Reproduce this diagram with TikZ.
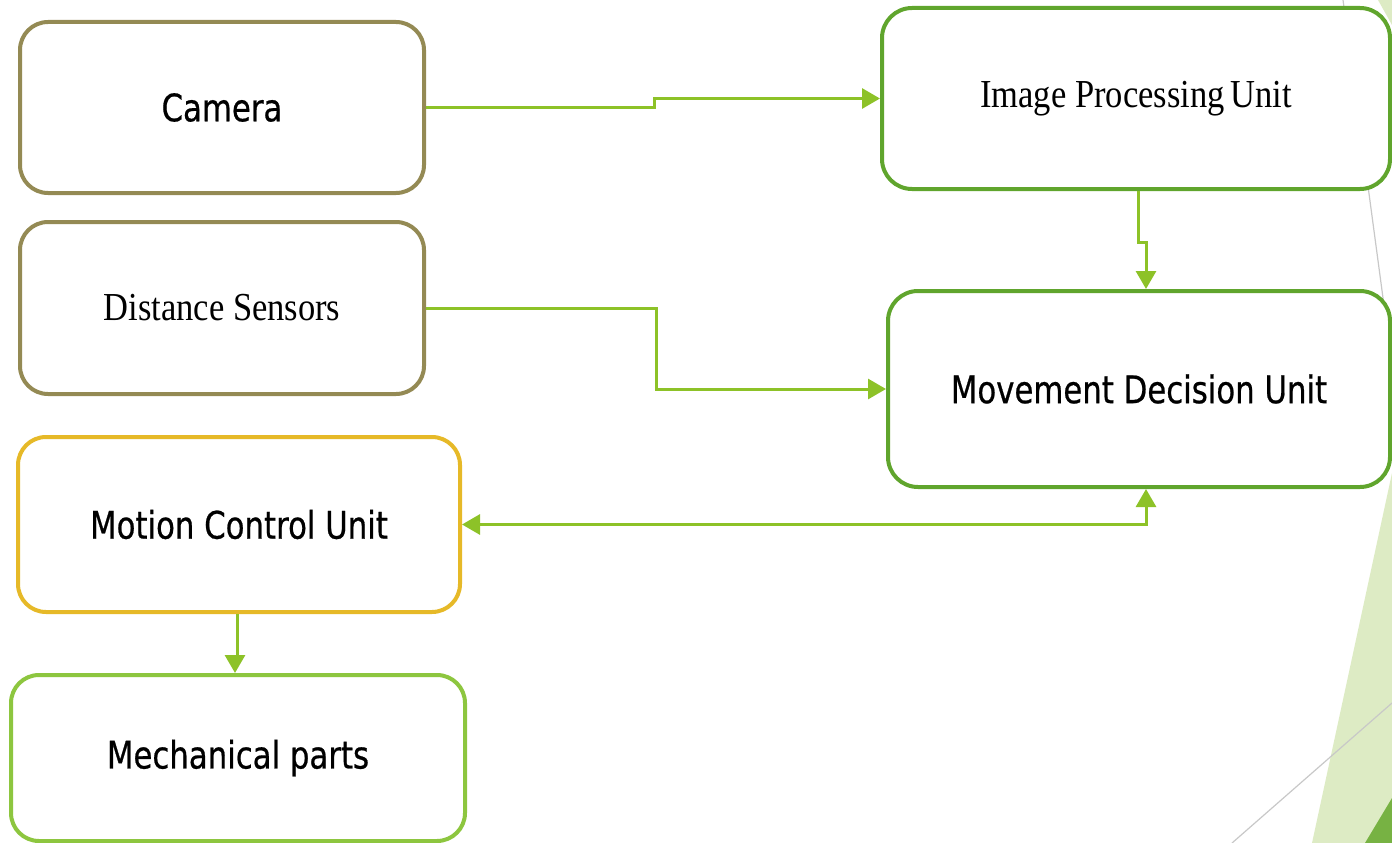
\documentclass[tikz,border=0pt]{standalone}
\usepackage{fontspec}
\setmainfont{Liberation Serif}
\newfontfamily\sansf[FakeStretch=0.81,FakeBold=0.6]{DejaVu Sans}
\usetikzlibrary{arrows.meta}
\definecolor{olivebd}{RGB}{148,138,84}
\definecolor{darkgrn}{RGB}{96,165,45}
\definecolor{goldbd}{RGB}{230,185,40}
\definecolor{lightgrn}{RGB}{141,198,63}
\definecolor{arrowgrn}{RGB}{141,194,40}
\definecolor{paleleaf}{RGB}{221,235,196}
\definecolor{leaf}{RGB}{119,178,67}
\definecolor{thingray}{RGB}{200,200,200}
\tikzset{
  box/.style={draw, line width=4pt, rounded corners=28pt, fill=white, align=center, inner sep=0pt},
  sanslabel/.style={font=\sansf\fontsize{38}{42}\selectfont},
  seriflabel/.style={font=\fontsize{34.5}{40}\selectfont},
  conn/.style={draw=arrowgrn, line width=3pt, -{Triangle[length=18pt,width=20pt]}},
  biconn/.style={draw=arrowgrn, line width=3pt, {Triangle[length=18pt,width=20pt]}-{Triangle[length=18pt,width=20pt]}},
  deco/.style={draw=thingray, line width=1.2pt}
}
\begin{document}
\begin{tikzpicture}[x=1pt,y=-1pt]
\useasboundingbox (0,0) rectangle (1392,843);
% background decoration
\fill[paleleaf] (1392,473) -- (1312,843) -- (1392,843) -- cycle;
\fill[paleleaf] (1378,0) -- (1392,0) -- (1392,25) -- cycle;
\fill[leaf] (1365,843) -- (1392,798) -- (1392,843) -- cycle;
\draw[deco] (1343,0) -- (1392,365);
\draw[deco] (1232,843) -- (1392,703);
% boxes
\node[box, draw=olivebd, minimum width=404pt, minimum height=171pt, sanslabel] (cam) at (222,107.5) {Camera};
\node[box, draw=olivebd, minimum width=404pt, minimum height=172pt, seriflabel] (dist) at (222,308) {\scalebox{1}[1.15]{Distance Sensors}};
\node[box, draw=darkgrn, rounded corners=30pt, minimum width=508pt, minimum height=181pt, seriflabel] (ipu) at (1136,98.5) {\scalebox{1}[1.15]{Image Processing\,Unit}};
\node[box, draw=darkgrn, rounded corners=30pt, minimum width=502pt, minimum height=196pt, sanslabel] (mdu) at (1139,389) {Movement Decision Unit};
\node[box, draw=goldbd, minimum width=442pt, minimum height=175pt, sanslabel] (mcu) at (239,524.5) {Motion Control Unit};
\node[box, draw=lightgrn, minimum width=454pt, minimum height=166pt, sanslabel] (mech) at (238,758) {Mechanical parts};
% connectors
\draw[conn] (cam.east) -- ++(228,0) |- (ipu.west);
\draw[conn] ([xshift=2pt]ipu.south) -- ++(0,51) -| ([xshift=7pt]mdu.north);
\draw[conn] (dist.east) -- ++(230,0) |- (mdu.west);
\draw[biconn] (mcu.east) -| ([xshift=7pt]mdu.south);
\draw[conn] ([xshift=-2pt]mcu.south) -- ++(0,48) -| ([xshift=-3pt]mech.north);
\end{tikzpicture}
\end{document}
